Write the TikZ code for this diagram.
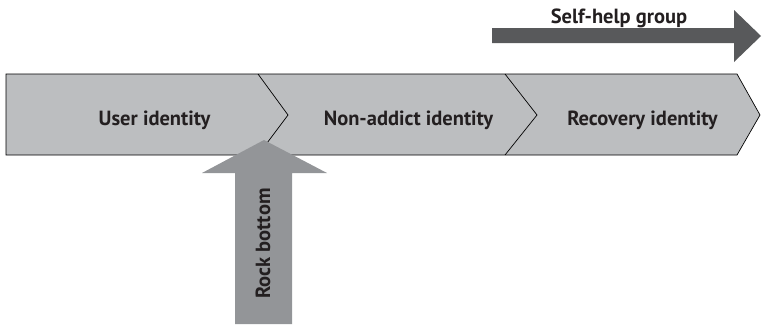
\documentclass[tikz,border=0pt]{standalone}
\usepackage{fontspec}
\setmainfont{PT Sans}
\definecolor{bandgray}{HTML}{BCBEC0}
\definecolor{darkarrow}{HTML}{58595B}
\definecolor{midarrow}{HTML}{939598}
\definecolor{ink}{HTML}{231F20}
\begin{document}
\begin{tikzpicture}[x=1pt,y=-1pt,
  label/.style={text=ink,font=\fontsize{20.5}{24}\selectfont\bfseries,inner sep=0pt,anchor=base},
  edge/.style={draw=black,line width=0.7pt,line join=miter}]
\useasboundingbox (0,0) rectangle (762,324);

% stage band
\fill[bandgray] (6,74) -- (737,74) -- (760,115) -- (737,155) -- (6,155) -- cycle;
\draw[edge] (6,74) -- (737,74) -- (760,115) -- (737,155) -- (6,155) -- cycle;
\draw[edge] (258,74) -- (288,115) -- (258,155);
\draw[edge] (505,74) -- (537,115) -- (505,155);

\node[label] (user) at (154.5,125) {User identity};
\node[label] (nonaddict) at (408.5,125) {Non-addict identity};
\node[label] (recovery) at (642.5,125) {Recovery identity};

% self-help arrow
\fill[darkarrow] (492,28) -- (734,28) -- (734,10) -- (761,36) -- (734,62) -- (734,43) -- (492,43) -- cycle;
\node[label] (selfhelp) at (619,23) {Self-help group};

% rock bottom arrow
\fill[midarrow] (235,324) -- (235,173) -- (202,173) -- (264,140) -- (327,173) -- (292,173) -- (292,324) -- cycle;
\node[label,rotate=90] (rock) at (270,243.5) {Rock bottom};
\end{tikzpicture}
\end{document}
